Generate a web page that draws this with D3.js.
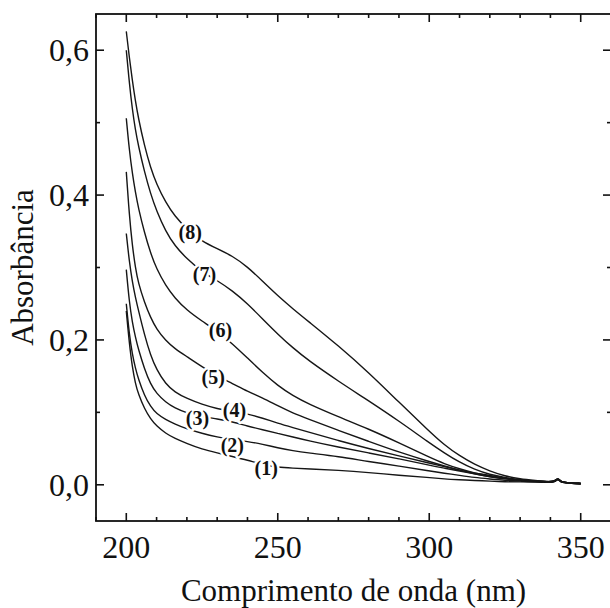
<!DOCTYPE html>
<html>
<head>
<meta charset="utf-8">
<script src="https://cdn.jsdelivr.net/npm/d3@7"></script>
<style>
    body { margin: 0; background: #fff; }
</style>
</head>
<body>
<div class="vis"></div>
<script>
// comprimento de onda (nm)
const wavelength = [200, 201, 202, 203, 204, 206, 208, 210, 213, 216, 220, 225, 230, 235, 240, 245, 250, 255, 260, 270, 280, 290, 300, 305, 310, 315, 320, 325, 330, 335, 340, 341.5, 342.5, 343.5, 345, 350];

const curve1 = [0.240, 0.195, 0.162, 0.140, 0.125, 0.105, 0.091, 0.081, 0.071, 0.064, 0.057, 0.049, 0.044, 0.039, 0.034, 0.028, 0.024, 0.023, 0.022, 0.020, 0.017, 0.013, 0.010, 0.008, 0.007, 0.006, 0.005, 0.004, 0.004, 0.004, 0.003, 0.004, 0.009, 0.003, 0.003, 0.001];
const curve2 = [0.250, 0.207, 0.180, 0.161, 0.146, 0.123, 0.108, 0.098, 0.090, 0.084, 0.077, 0.071, 0.066, 0.062, 0.060, 0.056, 0.051, 0.047, 0.044, 0.039, 0.032, 0.026, 0.019, 0.016, 0.013, 0.010, 0.008, 0.006, 0.005, 0.004, 0.003, 0.004, 0.009, 0.003, 0.003, 0.001];
const curve3 = [0.297, 0.252, 0.224, 0.204, 0.187, 0.160, 0.139, 0.126, 0.114, 0.106, 0.099, 0.094, 0.091, 0.087, 0.081, 0.076, 0.071, 0.066, 0.061, 0.052, 0.044, 0.036, 0.027, 0.023, 0.019, 0.015, 0.011, 0.009, 0.006, 0.005, 0.004, 0.004, 0.009, 0.003, 0.003, 0.001];
const curve4 = [0.347, 0.308, 0.280, 0.259, 0.241, 0.207, 0.179, 0.159, 0.139, 0.128, 0.119, 0.111, 0.105, 0.101, 0.098, 0.092, 0.085, 0.079, 0.073, 0.061, 0.050, 0.040, 0.030, 0.025, 0.020, 0.016, 0.013, 0.009, 0.006, 0.005, 0.004, 0.005, 0.009, 0.004, 0.003, 0.002];
const curve5 = [0.432, 0.372, 0.330, 0.300, 0.278, 0.252, 0.231, 0.215, 0.199, 0.188, 0.177, 0.163, 0.150, 0.140, 0.129, 0.120, 0.109, 0.099, 0.091, 0.075, 0.060, 0.045, 0.032, 0.026, 0.020, 0.015, 0.011, 0.008, 0.006, 0.005, 0.004, 0.005, 0.009, 0.004, 0.003, 0.002];
const curve6 = [0.506, 0.462, 0.430, 0.404, 0.382, 0.348, 0.320, 0.298, 0.275, 0.258, 0.241, 0.226, 0.212, 0.195, 0.175, 0.155, 0.137, 0.123, 0.112, 0.094, 0.077, 0.058, 0.038, 0.029, 0.022, 0.016, 0.012, 0.009, 0.006, 0.005, 0.004, 0.005, 0.010, 0.004, 0.003, 0.002];
const curve7 = [0.600, 0.555, 0.518, 0.490, 0.468, 0.432, 0.402, 0.378, 0.350, 0.330, 0.312, 0.294, 0.282, 0.268, 0.250, 0.229, 0.208, 0.189, 0.172, 0.143, 0.116, 0.088, 0.058, 0.044, 0.031, 0.021, 0.014, 0.010, 0.007, 0.005, 0.004, 0.005, 0.010, 0.004, 0.003, 0.002];
const curve8 = [0.626, 0.590, 0.558, 0.530, 0.506, 0.468, 0.438, 0.415, 0.390, 0.371, 0.353, 0.336, 0.326, 0.316, 0.301, 0.281, 0.261, 0.243, 0.226, 0.192, 0.155, 0.114, 0.074, 0.055, 0.040, 0.028, 0.019, 0.012, 0.008, 0.006, 0.004, 0.005, 0.010, 0.004, 0.003, 0.002];

const series = [curve1, curve2, curve3, curve4, curve5, curve6, curve7, curve8];

// rótulos das curvas: (1) ... (8), posição em nm / absorbância
const labelNames = ["(1)", "(2)", "(3)", "(4)", "(5)", "(6)", "(7)", "(8)"];
const labelNm = [246.2, 235.0, 223.5, 235.7, 228.7, 231.1, 225.8, 221.1];
const labelAbs = [0.023, 0.055, 0.092, 0.103, 0.149, 0.214, 0.291, 0.349];

const xMajor = [200, 250, 300, 350];
const xMinor = [190, 210, 220, 230, 240, 260, 270, 280, 290, 310, 320, 330, 340, 360];
const yMajor = [0.0, 0.2, 0.4, 0.6];
const yMinor = [0.1, 0.3, 0.5];

const width = 610,
    height = 608,
    margin = {top: 14, right: -1, bottom: 87, left: 96};

const serif = "'Liberation Serif', 'Times New Roman', Times, serif";

let svg = d3.select(".vis")
    .append("svg")
    .attr("width", width)
    .attr("height", height)
    .style("display", "block")

let x = d3.scaleLinear()
    .domain([190, 360])
    .range([margin.left, width - margin.right])

let y = d3.scaleLinear()
    .domain([-0.05, 0.65])
    .range([height - margin.bottom, margin.top])

const x0 = x.range()[0], x1 = x.range()[1],
    y0 = y.range()[0], y1 = y.range()[1];

/* curvas */

let line = d3.line()
    .x((d, i) => x(wavelength[i]))
    .y(d => y(d))
    .curve(d3.curveBasis)

svg.append("g")
    .attr("id", "curves")
    .selectAll("path")
    .data(series)
    .join("path")
    .attr("d", line)
    .style("fill", "none")
    .style("stroke", "#161616")
    .style("stroke-width", 1.4)
    .style("stroke-linejoin", "round")

/* rótulos com fundo branco */

let labels = svg.append("g").attr("id", "labels")

labelNames.forEach((name, i) => {
    labels.append("text")
        .attr("x", x(labelNm[i]))
        .attr("y", y(labelAbs[i]))
        .attr("dy", "0.35em")
        .text(name)
        .style("font-family", serif)
        .style("font-weight", "bold")
        .style("font-size", "20px")
        .style("text-anchor", "middle")
        .style("fill", "#111")
        .style("stroke", "#fff")
        .style("stroke-width", 5)
        .style("paint-order", "stroke")
        .style("stroke-linejoin", "round")
})

/* moldura e ticks */

let frame = svg.append("g").attr("id", "frame")

frame.append("rect")
    .attr("x", x0)
    .attr("y", y1)
    .attr("width", x1 - x0)
    .attr("height", y0 - y1)
    .style("fill", "none")
    .style("stroke", "#111")
    .style("stroke-width", 1.8)

function xTicks(values, len) {
    values.forEach(v => {
        frame.append("line")
            .attr("x1", x(v)).attr("x2", x(v))
            .attr("y1", y0).attr("y2", y0 - len)
            .style("stroke", "#111").style("stroke-width", 1.6)
        frame.append("line")
            .attr("x1", x(v)).attr("x2", x(v))
            .attr("y1", y1).attr("y2", y1 + len)
            .style("stroke", "#111").style("stroke-width", 1.6)
    })
}

function yTicks(values, len) {
    values.forEach(v => {
        frame.append("line")
            .attr("x1", x0).attr("x2", x0 + len)
            .attr("y1", y(v)).attr("y2", y(v))
            .style("stroke", "#111").style("stroke-width", 1.6)
        frame.append("line")
            .attr("x1", x1).attr("x2", x1 - len)
            .attr("y1", y(v)).attr("y2", y(v))
            .style("stroke", "#111").style("stroke-width", 1.6)
    })
}

xTicks(xMajor, 8)
xTicks(xMinor, 4)
yTicks(yMajor, 8)
yTicks(yMinor, 4)

frame.selectAll(".xlabel")
    .data(xMajor)
    .join("text")
    .attr("class", "xlabel")
    .attr("x", d => x(d))
    .attr("y", y0 + 37)
    .text(d => d)
    .style("font-family", serif)
    .style("font-size", "32px")
    .style("text-anchor", "middle")
    .style("fill", "#111")

frame.selectAll(".ylabel")
    .data(yMajor)
    .join("text")
    .attr("class", "ylabel")
    .attr("x", x0 - 7)
    .attr("y", d => y(d) + 11)
    .text(d => d3.format(".1f")(d).replace(".", ","))
    .style("font-family", serif)
    .style("font-size", "32px")
    .style("text-anchor", "end")
    .style("fill", "#111")

/* títulos dos eixos */

svg.append("text")
    .attr("x", (x0 + x1) / 2)
    .attr("y", 601)
    .text("Comprimento de onda (nm)")
    .style("font-family", serif)
    .style("font-size", "31px")
    .style("text-anchor", "middle")
    .style("fill", "#111")

svg.append("text")
    .attr("transform", "translate(33 " + ((y0 + y1) / 2) + ") rotate(-90)")
    .text("Absorbância")
    .style("font-family", serif)
    .style("font-size", "31px")
    .style("text-anchor", "middle")
    .style("fill", "#111")
</script>
</body>
</html>
